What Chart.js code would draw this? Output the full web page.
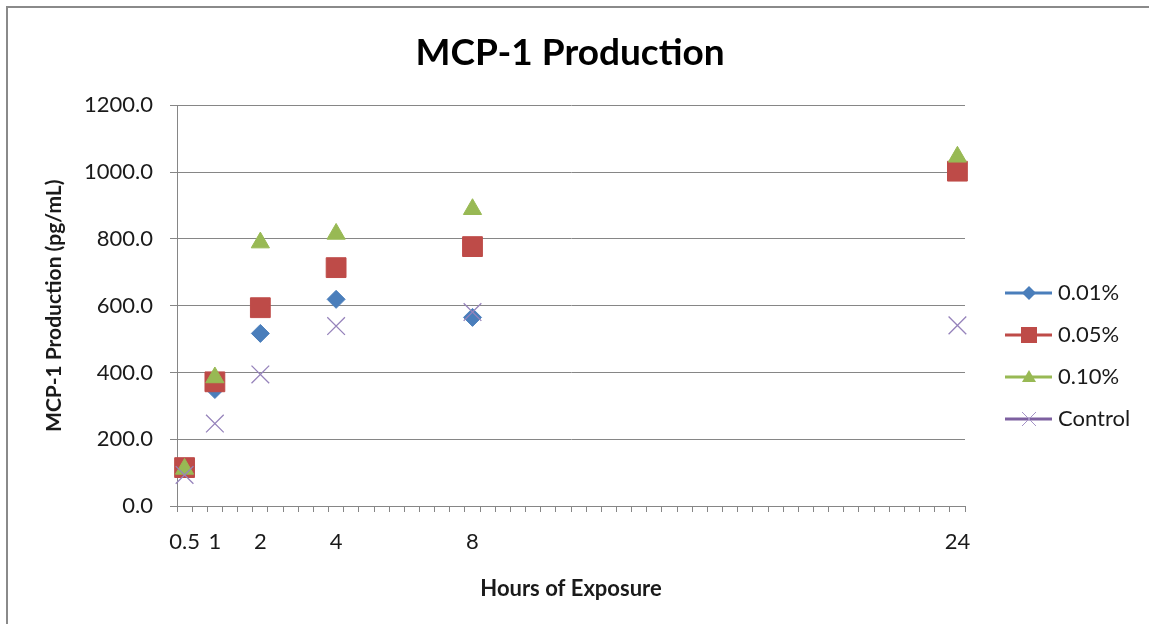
<!DOCTYPE html>
<html>
<head>
<meta charset="utf-8">
<title>MCP-1 Production</title>
<script src="https://cdn.jsdelivr.net/npm/chart.js@4.4.1/dist/chart.umd.min.js"></script>
<style>
  html, body { margin: 0; padding: 0; background: #fff; overflow: hidden; }
  #marco { position: absolute; left: 6px; top: 6px; width: 1400px; height: 800px; border: 2px solid #8a8a8a; }
  #contenedor { position: absolute; left: 0; top: 0; width: 1149px; height: 624px; }
</style>
</head>
<body>
<div id="marco"></div>
<div id="contenedor"><canvas id="grafica"></canvas></div>
<script>
// Eje X: categorías con huecos (como en la hoja original), solo algunas con etiqueta
const gap = n => Array(n).fill('');
const categorias = ['0.5', ...gap(1), '1', ...gap(2), '2', ...gap(4), '4', ...gap(8), '8', ...gap(31), '24'];

const horas = ['0.5', '1', '2', '4', '8', '24'];
const serie001 = [115, 349, 517, 619, 565, null];
const serie005 = [115, 372, 594, 714, 777, 1003];
const serie010 = [111, 385, 789, 815, 889, 1046];
const control = [93, 247, 394, 539, 581, 541];

const nombres = ['0.01%', '0.05%', '0.10%', 'Control'];
const yMin = 0, yMax = 1200, yPaso = 200;

const gris = '#868686';
const texto = '#1a1a1a';
Chart.defaults.font.family = 'Lato, "Open Sans", sans-serif';

function puntos(valores) {
    return horas.map((h, i) => ({ x: h, y: valores[i] }));
}

// Iconos de la leyenda: línea con el marcador en medio
function iconoLeyenda(color, marcador) {
    const c = document.createElement('canvas');
    c.width = 74;
    c.height = 22;
    const g = c.getContext('2d');
    g.strokeStyle = color;
    g.lineWidth = 3;
    g.beginPath();
    g.moveTo(26, 11);
    g.lineTo(73, 11);
    g.stroke();
    marcador(g, 50, 11);
    return c;
}

const iconos = [
    iconoLeyenda('#4A7EBB', (g, x, y) => {
        g.fillStyle = '#4A7EBB';
        g.beginPath();
        g.moveTo(x - 7, y); g.lineTo(x, y - 7); g.lineTo(x + 7, y); g.lineTo(x, y + 7);
        g.closePath(); g.fill();
    }),
    iconoLeyenda('#BE4B48', (g, x, y) => {
        g.fillStyle = '#BE4B48';
        g.fillRect(x - 8, y - 8, 16, 16);
    }),
    iconoLeyenda('#98B954', (g, x, y) => {
        g.fillStyle = '#98B954';
        g.beginPath();
        g.moveTo(x, y - 7); g.lineTo(x + 7, y + 5); g.lineTo(x - 7, y + 5);
        g.closePath(); g.fill();
    }),
    iconoLeyenda('#7D60A0', (g, x, y) => {
        g.strokeStyle = '#a493c6';
        g.lineWidth = 1;
        g.beginPath();
        g.moveTo(x - 7, y - 7); g.lineTo(x + 7, y + 7);
        g.moveTo(x + 7, y - 7); g.lineTo(x - 7, y + 7);
        g.stroke();
    })
];

// Ancho de la leyenda (Chart.js suma 10px a las leyendas verticales)
const tamLeyenda = 22, sepLeyenda = 20, cajaLeyenda = 62;
const medir = document.createElement('canvas').getContext('2d');
medir.font = tamLeyenda + 'px Lato';
const anchoTexto = Math.max(...nombres.map(t => medir.measureText(t).width));
const anchoLeyenda = 10 + sepLeyenda + cajaLeyenda + tamLeyenda / 2 + anchoTexto;
const rellenoDerecho = Math.max(0, 1149 - 965 - anchoLeyenda);

new Chart(document.getElementById('grafica'), {
    type: 'line',
    data: {
        labels: categorias,
        datasets: [
            {
                label: nombres[0], data: puntos(serie001), showLine: false, order: 4,
                pointStyle: 'rectRot', pointRadius: 9, pointBackgroundColor: '#4A7EBB',
                pointBorderColor: '#4A7EBB', pointBorderWidth: 1, borderColor: '#4A7EBB'
            },
            {
                label: nombres[1], data: puntos(serie005), showLine: false, order: 3,
                pointStyle: 'rect', pointRadius: 14, pointBackgroundColor: '#BE4B48',
                pointBorderColor: '#BE4B48', pointBorderWidth: 1, borderColor: '#BE4B48'
            },
            {
                label: nombres[2], data: puntos(serie010), showLine: false, order: 2,
                pointStyle: 'triangle', pointRadius: 10.5, pointBackgroundColor: '#98B954',
                pointBorderColor: '#98B954', pointBorderWidth: 1, borderColor: '#98B954'
            },
            {
                label: nombres[3], data: puntos(control), showLine: false, order: 1,
                pointStyle: 'crossRot', pointRadius: 12.5, pointBackgroundColor: '#9683bb',
                pointBorderColor: '#9683bb', pointBorderWidth: 1.3, borderColor: '#7D60A0'
            }
        ]
    },
    options: {
        responsive: true,
        maintainAspectRatio: false,
        animation: false,
        layout: { padding: { left: 0, right: rellenoDerecho, top: 0, bottom: 0 } },
        plugins: {
            title: {
                display: true,
                text: 'MCP-1 Production',
                color: '#000',
                font: { size: 37, weight: 'bold', lineHeight: 1.2 },
                padding: { top: 31, bottom: 30 }
            },
            legend: {
                position: 'right',
                reverse: true,
                title: { display: true, text: ' ', padding: { top: 78, bottom: 0 }, font: { size: 10, lineHeight: 1 } },
                labels: {
                    usePointStyle: true,
                    pointStyleWidth: cajaLeyenda,
                    padding: sepLeyenda,
                    color: texto,
                    font: { size: tamLeyenda },
                    generateLabels(chart) {
                        const items = Chart.defaults.plugins.legend.labels.generateLabels(chart);
                        items.forEach(it => { it.pointStyle = iconos[it.datasetIndex]; });
                        return items;
                    }
                }
            },
            tooltip: { enabled: false }
        },
        scales: {
            x: {
                offset: true,
                grid: { offset: true, drawOnChartArea: false, tickLength: 6, color: gris },
                border: { color: gris },
                ticks: { autoSkip: false, maxRotation: 0, minRotation: 0, padding: 17, color: texto, font: { size: 22 } },
                title: {
                    display: true, text: 'Hours of Exposure', color: texto,
                    font: { size: 22, weight: 'bold' }, padding: { top: 0, bottom: 22 }
                },
                afterFit(s) { s.height = 118; }
            },
            y: {
                min: yMin,
                max: yMax,
                ticks: { stepSize: yPaso, padding: 17, color: texto, font: { size: 22 }, callback: v => v.toFixed(1) },
                grid: { color: gris, tickLength: 7 },
                border: { color: gris },
                title: {
                    display: true, text: 'MCP-1 Production (pg/mL)', color: texto,
                    font: { size: 21, weight: 'bold' }, padding: { top: 42, bottom: 0 }
                },
                afterFit(s) { s.width = 177; }
            }
        }
    }
});
</script>
</body>
</html>
